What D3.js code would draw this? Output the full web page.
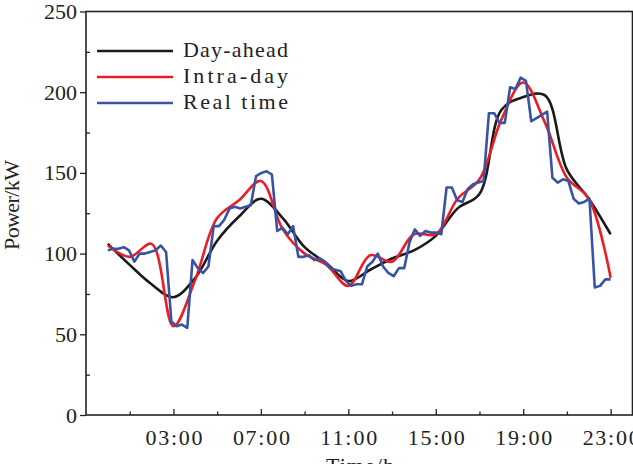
<!DOCTYPE html>
<html>
<head>
<meta charset="utf-8">
<script src="https://cdn.jsdelivr.net/npm/d3@7/dist/d3.min.js"></script>
<style>
  body { margin: 0; background: #fff; }
  text { font-family: 'Liberation Serif', 'DejaVu Serif', serif; fill: #222; }
</style>
</head>
<body>
<div id="chart"></div>
<script>
// hourly forecasts, 00:00 .. 23:00
const hours = d3.range(24);
const dayAhead = [106, 93, 81, 73, 85, 108, 123, 134, 122, 104, 94, 83,
                  90, 97, 102, 111, 128, 137, 189, 197, 198, 152, 134, 112];
const intraDay = [105, 98, 106, 55, 84, 122, 133, 145, 115, 100, 93, 80,
                  99, 95, 112, 112, 134, 146, 183, 206, 181, 147, 134, 85];
// real time, 96 samples over the same span
const realTime = [102, 103, 103, 104, 102, 95, 100, 100, 101, 102, 105, 101,
                  58, 55, 56, 54, 96, 91, 88, 92, 117, 117, 121, 128,
                  129, 128, 129, 130, 148, 150, 151, 149, 114, 116, 112, 117,
                  98, 98, 99, 96, 97, 95, 91, 90, 89, 83, 80, 81,
                  81, 92, 95, 100, 92, 88, 86, 91, 91, 107, 115, 111,
                  114, 113, 113, 112, 141, 141, 133, 132, 140, 143, 144, 145,
                  187, 187, 181, 181, 203, 202, 209, 207, 182, 184, 186, 188,
                  147, 144, 146, 145, 134, 131, 132, 134, 79, 80, 84, 84];
const realTimeHours = realTime.map((d, i) => i * 23 / (realTime.length - 1));

const seriesNames = ['Day-ahead', 'Intra-day', 'Real time'];
const seriesColors = ['#1a1a1a', '#ec1c24', '#3953a4'];

const xTicks = [3, 7, 11, 15, 19, 23];
const xTickLabels = ['03:00', '07:00', '11:00', '15:00', '19:00', '23:00'];
const xMinorTicks = [1, 5, 9, 13, 17, 21];
const yTicks = [0, 50, 100, 150, 200, 250];
const yMinorTicks = [25, 75, 125, 175, 225];

const W = 633, H = 464;
const plotLeft = 86, plotTop = 11.5, plotRight = 632.5, plotBottom = 415;

const svg = d3.select('#chart').append('svg')
  .attr('width', W)
  .attr('height', H);

const x = d3.scaleLinear().domain([-1, 24]).range([plotLeft, plotRight]);
const y = d3.scaleLinear().domain([0, 250]).range([plotBottom, plotTop]);

// axes
const xAxis = svg.append('g')
  .attr('transform', 'translate(0,' + plotBottom + ')')
  .call(d3.axisBottom(x).tickValues(xTicks).tickSize(-6).tickSizeOuter(0)
    .tickFormat((d, i) => xTickLabels[i]).tickPadding(14));
xAxis.select('.domain').remove();
xAxis.selectAll('line').attr('stroke', '#222').attr('stroke-width', 1.3);
xAxis.selectAll('text')
  .attr('font-size', 22)
  .attr('textLength', 57)
  .attr('lengthAdjust', 'spacing')
  .attr('fill', '#222');

svg.append('g')
  .attr('transform', 'translate(0,' + plotBottom + ')')
  .call(d3.axisBottom(x).tickValues(xMinorTicks).tickSize(-3.5).tickFormat(''))
  .call(g => g.select('.domain').remove())
  .selectAll('line').attr('stroke', '#222').attr('stroke-width', 1.3);

const yAxis = svg.append('g')
  .attr('transform', 'translate(' + plotLeft + ',0)')
  .call(d3.axisLeft(y).tickValues(yTicks).tickSize(6).tickSizeOuter(0).tickPadding(3));
yAxis.select('.domain').remove();
yAxis.selectAll('line').attr('stroke', '#222').attr('stroke-width', 1.3);
yAxis.selectAll('text').attr('font-size', 22).attr('fill', '#222');

svg.append('g')
  .attr('transform', 'translate(' + plotLeft + ',0)')
  .call(d3.axisLeft(y).tickValues(yMinorTicks).tickSize(-4).tickFormat(''))
  .call(g => g.select('.domain').remove())
  .selectAll('line').attr('stroke', '#222').attr('stroke-width', 1.3);

// frame
svg.append('rect')
  .attr('x', plotLeft)
  .attr('y', plotTop)
  .attr('width', plotRight - plotLeft)
  .attr('height', plotBottom - plotTop)
  .attr('fill', 'none')
  .attr('stroke', '#222')
  .attr('stroke-width', 1.6);

// curves
const smooth = d3.line()
  .x((d, i) => x(hours[i]))
  .y(d => y(d))
  .curve(d3.curveCatmullRom.alpha(0.5));

const jagged = d3.line()
  .x((d, i) => x(realTimeHours[i]))
  .y(d => y(d));

svg.append('path')
  .datum(dayAhead)
  .attr('fill', 'none')
  .attr('stroke', seriesColors[0])
  .attr('stroke-width', 2.6)
  .attr('d', smooth);

svg.append('path')
  .datum(intraDay)
  .attr('fill', 'none')
  .attr('stroke', seriesColors[1])
  .attr('stroke-width', 2.6)
  .attr('d', smooth);

svg.append('path')
  .datum(realTime)
  .attr('fill', 'none')
  .attr('stroke', seriesColors[2])
  .attr('stroke-width', 2.6)
  .attr('stroke-linejoin', 'round')
  .attr('d', jagged);

// legend
const legend = svg.append('g');
seriesNames.forEach((name, i) => {
  const ly = 51 + i * 26;
  legend.append('line')
    .attr('x1', 97).attr('x2', 173)
    .attr('y1', ly).attr('y2', ly)
    .attr('stroke', seriesColors[i])
    .attr('stroke-width', 2.6);
  legend.append('text')
    .attr('x', 183)
    .attr('y', ly + 6)
    .attr('font-size', 22)
    .attr('textLength', 105)
    .attr('lengthAdjust', 'spacing')
    .text(name);
});

// axis titles
svg.append('text')
  .attr('transform', 'translate(19,205) rotate(-90)')
  .attr('text-anchor', 'middle')
  .attr('font-size', 22)
  .attr('textLength', 90)
  .attr('lengthAdjust', 'spacing')
  .text('Power/kW');

svg.append('text')
  .attr('x', 360)
  .attr('y', 473)
  .attr('text-anchor', 'middle')
  .attr('font-size', 22)
  .attr('textLength', 68)
  .attr('lengthAdjust', 'spacing')
  .text('Time/h');
</script>
</body>
</html>
